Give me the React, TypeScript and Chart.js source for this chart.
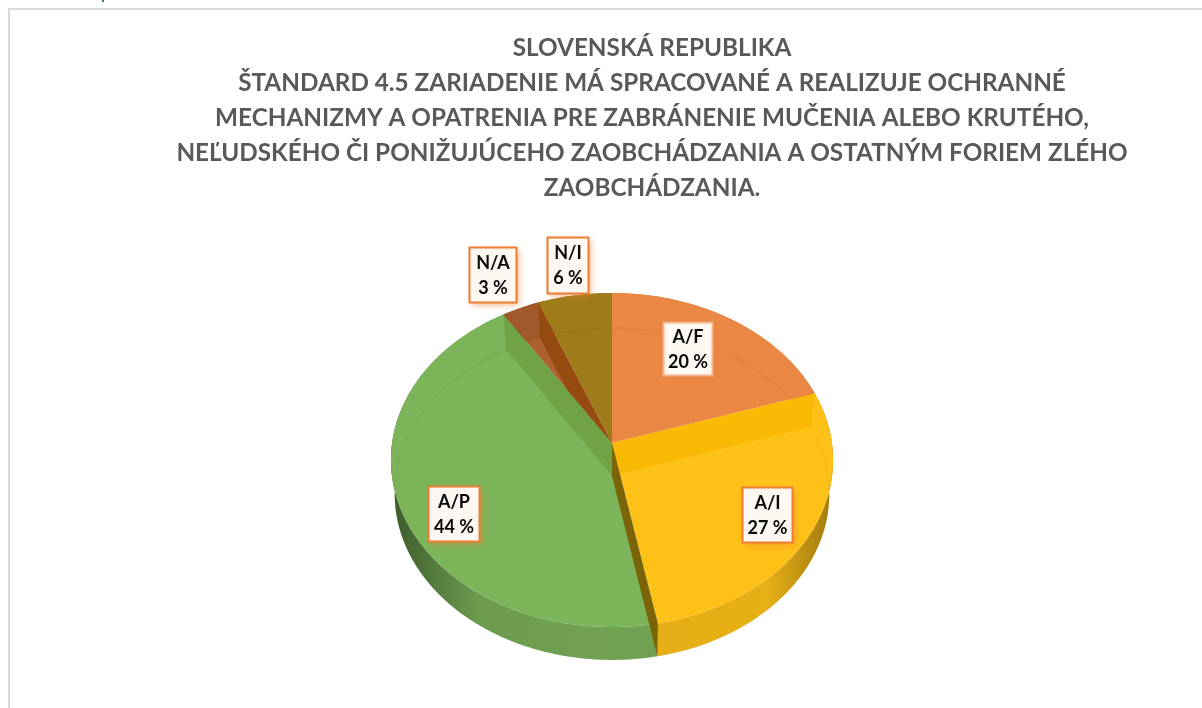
import React, { useEffect, useRef } from "react";
import { Chart, registerables } from "chart.js";

Chart.register(...registerables);

const titleLines = [
  "SLOVENSKÁ REPUBLIKA",
  "ŠTANDARD 4.5 ZARIADENIE MÁ SPRACOVANÉ A REALIZUJE OCHRANNÉ",
  "MECHANIZMY A OPATRENIA PRE ZABRÁNENIE MUČENIA ALEBO KRUTÉHO,",
  "NEĽUDSKÉHO ČI PONIŽUJÚCEHO ZAOBCHÁDZANIA A OSTATNÝM FORIEM ZLÉHO",
  "ZAOBCHÁDZANIA.",
];
const categories = ["A/F", "A/I", "A/P", "N/A", "N/I"];
const values = [20, 27, 44, 3, 6];
const sliceColors = ["#ea8744", "#fec118", "#7cb45a", "#ae6232", "#9f7b1a"];
// colour of the inner wall seen on each slice boundary (end of slice i)
const wallColors = ["#fab905", "#7b6308", "#6fa346", "#964b10", null];
// slice that each inner wall is confined to (-1: none)
const wallClip = [1, -1, 2, 3, -1];
const labelCenters = [
  [688, 349],
  [767.5, 515],
  [454, 514],
  [493, 275],
  [568, 265.5],
];
const labelSizes = [
  [49, 53],
  [50, 55],
  [51, 55],
  [47, 55],
  [41, 56],
];

// perspective projection of the unit disk (layout only)
const CX = 612;
const topFace = { ay: 443, a: 219.9, b: 165.3, k: 0.1018 };
const lowFace = { ay: 476, a: 216, b: 164, k: 0.1083 };
type Face = typeof topFace;
const proj = (f: Face, ang: number): [number, number] => {
  const x = Math.cos(ang);
  const y = Math.sin(ang);
  const d = 1 - f.k * y;
  return [CX + (f.a * x) / d, f.ay + (f.b * y) / d];
};
const edge = (f: Face, a0: number, a1: number) => {
  const n = Math.max(4, Math.ceil(Math.abs(a1 - a0) / 0.02));
  const out: [number, number][] = [];
  for (let i = 0; i <= n; i++) out.push(proj(f, a0 + ((a1 - a0) * i) / n));
  return out;
};
const poly = (ctx: CanvasRenderingContext2D, pts: [number, number][]) => {
  ctx.beginPath();
  pts.forEach((p, i) => (i ? ctx.lineTo(p[0], p[1]) : ctx.moveTo(p[0], p[1])));
  ctx.closePath();
};

const pie3d = {
  id: "pie3d",
  beforeDatasetDraw() {
    return false; // the arcs are painted in perspective below
  },
  afterDatasetsDraw(chart: any) {
    const ctx: CanvasRenderingContext2D = chart.ctx;
    const arcs = chart.getDatasetMeta(0).data as any[];
    const slice = (f: Face, el: any): [number, number][] => [
      [CX, f.ay],
      ...edge(f, el.startAngle, el.endAngle),
    ];
    ctx.save();

    // outer rim
    arcs.forEach((el, i) => {
      const rim = [
        ...edge(topFace, el.startAngle, el.endAngle),
        ...edge(lowFace, el.startAngle, el.endAngle).reverse(),
      ];
      poly(ctx, rim);
      ctx.fillStyle = sliceColors[i];
      ctx.fill();
      const g = ctx.createLinearGradient(391, 0, 834, 0);
      g.addColorStop(0, "rgba(0,0,0,0.5)");
      g.addColorStop(0.2, "rgba(0,0,0,0.13)");
      g.addColorStop(0.5, "rgba(0,0,0,0.1)");
      g.addColorStop(0.85, "rgba(0,0,0,0.09)");
      g.addColorStop(1, "rgba(0,0,0,0.38)");
      poly(ctx, rim);
      ctx.fillStyle = g;
      ctx.fill();
    });

    // top faces
    arcs.forEach((el, i) => {
      poly(ctx, slice(topFace, el));
      ctx.fillStyle = sliceColors[i];
      ctx.fill();
    });

    // darker back band on the small slice
    ctx.save();
    poly(ctx, slice(topFace, arcs[3]));
    ctx.clip();
    ctx.beginPath();
    edge(topFace, 0, Math.PI * 2).forEach((p, i) => (i ? ctx.lineTo(p[0], p[1]) : ctx.moveTo(p[0], p[1])));
    ctx.closePath();
    edge(lowFace, 0, Math.PI * 2).forEach((p, i) => (i ? ctx.lineTo(p[0], p[1]) : ctx.moveTo(p[0], p[1])));
    ctx.closePath();
    ctx.fillStyle = "rgba(70,20,0,0.12)";
    ctx.fill("evenodd");
    ctx.restore();

    // faint ring of the bottom face seen through the top
    ctx.save();
    poly(ctx, edge(topFace, 0, Math.PI * 2));
    ctx.clip();
    poly(ctx, edge(lowFace, 0, Math.PI * 2));
    ctx.strokeStyle = "rgba(90,60,0,0.08)";
    ctx.lineWidth = 1;
    ctx.stroke();
    ctx.restore();

    // inner walls along the slice boundaries
    arcs.forEach((el, i) => {
      const col = wallColors[i];
      if (!col) return;
      const p0 = proj(topFace, el.endAngle);
      const p1 = proj(lowFace, el.endAngle);
      const quad: [number, number][] = [[CX, topFace.ay], p0, p1, [CX, lowFace.ay]];
      ctx.save();
      if (wallClip[i] >= 0) {
        poly(ctx, slice(topFace, arcs[wallClip[i]]));
        ctx.clip();
      }
      poly(ctx, quad);
      ctx.fillStyle = col;
      ctx.fill();
      ctx.restore();
    });

    // labels
    ctx.textAlign = "center";
    ctx.textBaseline = "middle";
    arcs.forEach((_, i) => {
      const [cx, cy] = labelCenters[i];
      const [w, h] = labelSizes[i];
      ctx.save();
      ctx.shadowColor = "rgba(237,125,49,0.55)";
      ctx.shadowBlur = 6;
      ctx.shadowOffsetX = 2;
      ctx.shadowOffsetY = 2;
      ctx.fillStyle = "#fdf8f1";
      ctx.fillRect(cx - w / 2, cy - h / 2, w, h);
      ctx.restore();
      ctx.strokeStyle = i === 0 ? "#f3b48a" : "#ed7d31";
      ctx.lineWidth = 2;
      ctx.strokeRect(cx - w / 2, cy - h / 2, w, h);
      ctx.fillStyle = "#0a0a0a";
      ctx.font = "bold 18px Lato";
      ctx.fillText(categories[i], cx, cy - 12);
      ctx.fillText(`${values[i]} %`, cx, cy + 13);
    });
    ctx.restore();
  },
};

export default function App() {
  const ref = useRef<HTMLCanvasElement>(null);
  useEffect(() => {
    const chart = new Chart(ref.current!, {
      type: "pie",
      data: {
        labels: categories,
        datasets: [{ data: values, backgroundColor: sliceColors, borderWidth: 0 }],
      },
      options: {
        animation: false,
        responsive: false,
        layout: { padding: { left: 102, top: 21 } },
        plugins: {
          legend: { display: false },
          tooltip: { enabled: false },
          title: {
            display: true,
            text: titleLines,
            color: "#595959",
            font: { family: "Lato", size: 24.3, weight: "bold", lineHeight: 1.44 },
          },
        },
      },
      plugins: [pie3d],
    } as any);
    return () => chart.destroy();
  }, []);
  return (
    <div style={{ position: "fixed", left: 0, top: 0, width: 1202, height: 708, overflow: "hidden", background: "#fff" }}>
      <div style={{ position: "absolute", left: 102, top: 0, width: 2, height: 2, background: "#2e75b6" }} />
      <div
        style={{
          position: "absolute",
          left: 8,
          top: 8,
          right: 0,
          bottom: 0,
          borderLeft: "2px solid #d9d9d9",
          borderTop: "2px solid #d9d9d9",
        }}
      />
      <canvas ref={ref} width={1202} height={708} style={{ position: "absolute", left: 0, top: 0, display: "block" }} />
    </div>
  );
}
